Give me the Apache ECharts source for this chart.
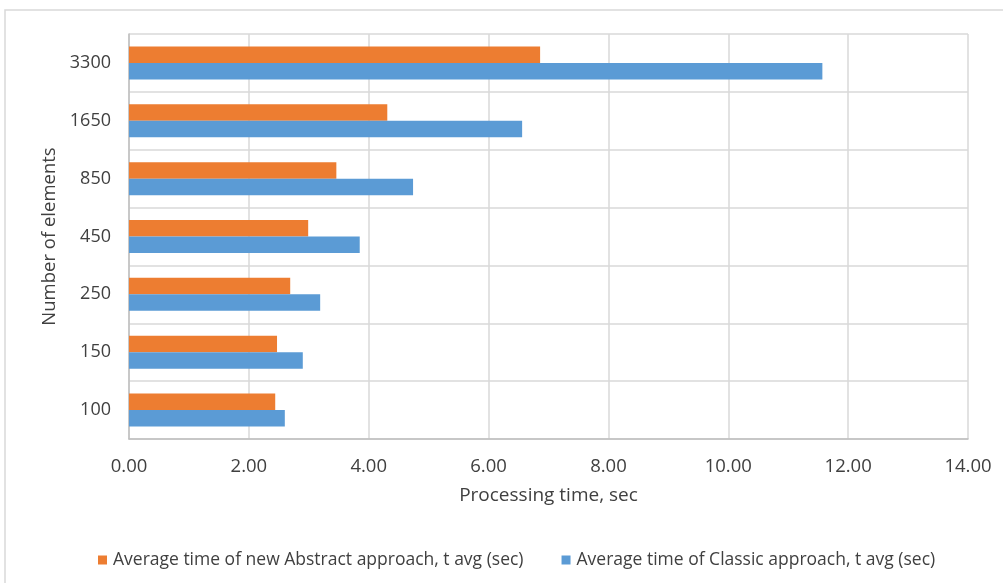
<!DOCTYPE html>
<html>
<head>
<meta charset="utf-8">
<title>Processing time by number of elements</title>
<script src="https://cdn.jsdelivr.net/npm/echarts@6/dist/echarts.min.js"></script>
<style>
  html, body { margin: 0; padding: 0; background: #ffffff; }
  #chart { width: 1003px; height: 583px; }
</style>
</head>
<body>
<div id="chart"></div>
<script>
// Number of elements (bottom to top)
const categories = ['100', '150', '250', '450', '850', '1650', '3300'];
// Average processing time, seconds
const abstractTimes = [2.44, 2.47, 2.69, 2.99, 3.46, 4.31, 6.86];
const classicTimes = [2.60, 2.90, 3.19, 3.85, 4.74, 6.56, 11.57];
const seriesNames = [
  'Average time of new Abstract approach, t avg (sec)',
  'Average time of Classic approach, t avg (sec)'
];
const xTicks = { min: 0, max: 14, interval: 2 };

const textColor = '#404040';
const gridColor = '#d9d9d9';
const font = '"Open Sans", "Noto Sans", sans-serif';

const chart = echarts.init(document.getElementById('chart'), null, { renderer: 'canvas' });

chart.setOption({
  animation: false,
  backgroundColor: '#ffffff',
  // outer chart frame
  graphic: [{
    type: 'rect',
    shape: { x: 5, y: 10, width: 1100, height: 700 },
    style: { fill: 'none', stroke: gridColor, lineWidth: 1.5 },
    silent: true,
    z: -1
  }],
  grid: { left: 129, top: 34, right: 35, bottom: 144, containLabel: false },
  legend: {
    data: seriesNames,
    left: 93,
    top: 546,
    itemWidth: 9,
    itemHeight: 9,
    itemGap: 38,
    icon: 'rect',
    textStyle: { color: textColor, fontFamily: font, fontSize: 17.5, padding: [0, 0, 0, 1] }
  },
  xAxis: {
    type: 'value',
    min: xTicks.min,
    max: xTicks.max,
    interval: xTicks.interval,
    name: 'Processing time, sec',
    nameLocation: 'middle',
    nameGap: 47,
    nameTextStyle: { color: textColor, fontFamily: font, fontSize: 19 },
    axisLine: { show: true, lineStyle: { color: '#bfbfbf', width: 1.5 } },
    axisTick: { show: false },
    axisLabel: {
      color: textColor, fontFamily: font, fontSize: 18.5, margin: 18,
      formatter: v => v.toFixed(2)
    },
    splitLine: { show: true, lineStyle: { color: gridColor, width: 1.5 } }
  },
  yAxis: {
    type: 'category',
    data: categories,
    name: 'Number of elements',
    nameLocation: 'middle',
    nameGap: 69,
    nameRotate: 90,
    nameTextStyle: { color: textColor, fontFamily: font, fontSize: 18.5 },
    axisLine: { show: true, lineStyle: { color: '#bfbfbf', width: 1.5 } },
    axisTick: { show: false },
    axisLabel: { color: textColor, fontFamily: font, fontSize: 18, margin: 18 },
    splitLine: { show: true, lineStyle: { color: gridColor, width: 1.5 } }
  },
  series: [
    {
      name: seriesNames[0],
      type: 'bar',
      data: abstractTimes,
      itemStyle: { color: '#ed7d31' },
      barGap: '0%',
      barCategoryGap: '43%'
    },
    {
      name: seriesNames[1],
      type: 'bar',
      data: classicTimes,
      itemStyle: { color: '#5b9bd5' },
      barGap: '0%',
      barCategoryGap: '43%'
    }
  ]
});
</script>
</body>
</html>
